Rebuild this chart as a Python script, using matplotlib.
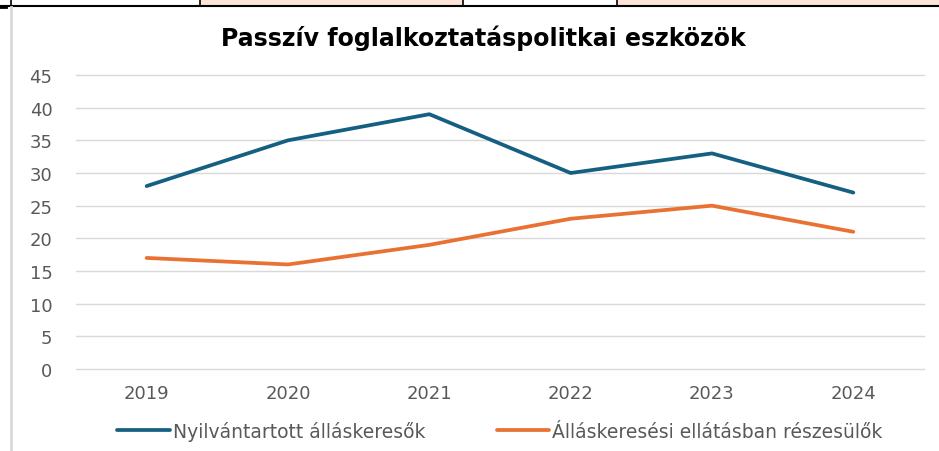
import matplotlib.pyplot as plt
from matplotlib.patches import Rectangle
from matplotlib.lines import Line2D

years = ['2019', '2020', '2021', '2022', '2023', '2024']
nyilvantartott = [28, 35, 39, 30, 33, 27]
ellatasban = [17, 16, 19, 23, 25, 21]
yticks = [0, 5, 10, 15, 20, 25, 30, 35, 40, 45]

blue = '#156082'
orange = '#E97132'
grey = '#595959'

plt.rcParams['font.family'] = ['DejaVu Sans']

W, H = 939, 452
fig = plt.figure(figsize=(W / 100, H / 100), dpi=100)
fig.patch.set_facecolor('white')

# spreadsheet cells above the chart
for x0, x1 in [(200, 463), (617, 939)]:
    fig.add_artist(Rectangle((x0 / W, 1 - 6 / H), (x1 - x0) / W, 6 / H,
                             transform=fig.transFigure, facecolor='#FCE4D6',
                             edgecolor='none', zorder=0))
fig.add_artist(Line2D([0, 1], [1 - 6.5 / H, 1 - 6.5 / H], transform=fig.transFigure,
                      color='black', lw=1.5))
for xv in [10.5, 199.5, 463, 616.5]:
    fig.add_artist(Line2D([xv / W, xv / W], [1 - 6.5 / H, 1], transform=fig.transFigure,
                          color='black', lw=1.2))
fig.add_artist(Line2D([0, 6 / W], [1 - 8 / H, 1 - 8 / H], transform=fig.transFigure,
                      color='black', lw=2))
fig.add_artist(Line2D([11 / W, 11 / W], [0, 1 - 8 / H], transform=fig.transFigure,
                      color='#d9d9d9', lw=2))

ax = fig.add_axes([76 / W, 82 / H, (924 - 76) / W, (370 - 76) / H])
x = range(len(years))
ax.plot(x, nyilvantartott, color=blue, lw=2.7, solid_capstyle='round',
        label='Nyilvántartott álláskeresők')
ax.plot(x, ellatasban, color=orange, lw=2.7, solid_capstyle='round',
        label='Álláskeresési ellátásban részesülők')

ax.set_xlim(-0.5, len(years) - 0.5)
ax.set_ylim(0, 45)
ax.set_yticks(yticks)
ax.set_xticks(list(x))
ax.set_xticklabels(years)
ax.grid(axis='y', color='#d9d9d9', lw=1)
for gl in ax.get_ygridlines():
    gl.set_clip_on(False)
ax.set_axisbelow(True)
for s in ax.spines.values():
    s.set_visible(False)
ax.tick_params(length=0, labelsize=13, colors=grey)
ax.tick_params(axis='x', pad=11)
ax.tick_params(axis='y', pad=17)

fig.text(483 / W, 1 - 38 / H, 'Passzív foglalkoztatáspolitkai eszközök',
         ha='center', va='center', fontsize=17, fontweight='bold', color='black')

ax.legend(loc='center', bbox_to_anchor=(0.5, -0.211), ncol=2, frameon=False,
          fontsize=13.5, labelcolor=grey, handlelength=2.8, handletextpad=0.17,
          columnspacing=3.8)

fig.savefig('out.png', dpi=100)
